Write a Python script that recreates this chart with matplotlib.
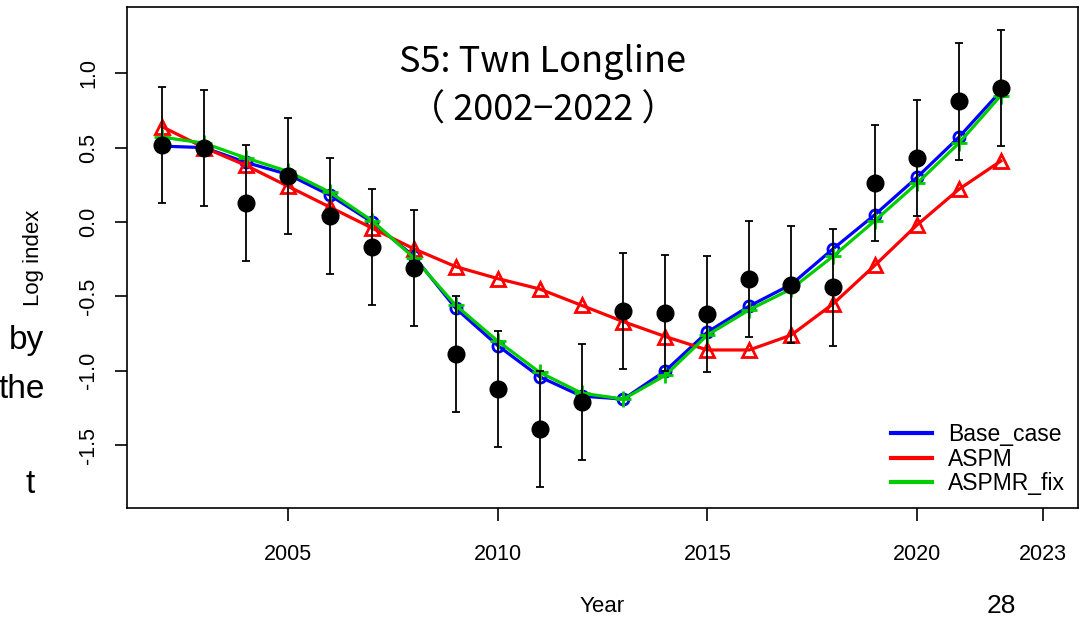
import numpy as np
import matplotlib

matplotlib.use('Agg')
import matplotlib.pyplot as plt

plt.rcParams['font.family'] = ['Liberation Sans', 'DejaVu Sans']

# ---------------------------------------------------------------------
# data
# ---------------------------------------------------------------------
years = [2002, 2003, 2004, 2005, 2006, 2007, 2008, 2009, 2010, 2011, 2012,
         2013, 2014, 2015, 2016, 2017, 2018, 2019, 2020, 2021, 2022]

obs = [0.52, 0.50, 0.13, 0.31, 0.04, -0.17, -0.31, -0.89, -1.12, -1.39, -1.21,
       -0.60, -0.61, -0.62, -0.38, -0.42, -0.44, 0.26, 0.43, 0.81, 0.90]
obs_ci = [0.39, 0.39, 0.39, 0.39, 0.39, 0.39, 0.39, 0.39, 0.39, 0.39, 0.39,
          0.39, 0.39, 0.39, 0.39, 0.39, 0.39, 0.39, 0.39, 0.39, 0.39]

base_case = [0.51, 0.50, 0.40, 0.32, 0.18, 0.00, -0.23, -0.58, -0.83, -1.04, -1.17,
             -1.19, -1.00, -0.74, -0.565, -0.42, -0.18, 0.05, 0.30, 0.57, 0.88]
aspm = [0.64, 0.50, 0.38, 0.24, 0.10, -0.04, -0.18, -0.30, -0.38, -0.45, -0.56,
        -0.67, -0.77, -0.86, -0.86, -0.76, -0.55, -0.29, -0.02, 0.22, 0.41]
aspmr_fix = [0.57, 0.53, 0.43, 0.34, 0.20, 0.01, -0.24, -0.56, -0.80, -1.01, -1.15,
             -1.19, -1.03, -0.76, -0.59, -0.45, -0.23, 0.01, 0.26, 0.53, 0.85]

series_names = ['Base_case', 'ASPM', 'ASPMR_fix']
series_colors = ['#0000FF', '#FF0000', '#00CD00']

x_ticks = [2005, 2010, 2015, 2020, 2023]
y_ticks = [-1.5, -1.0, -0.5, 0.0, 0.5, 1.0]

# ---------------------------------------------------------------------
fig = plt.figure(figsize=(10.79, 6.18), dpi=100)
ax = fig.add_axes([127 / 1079, 1 - 508 / 618, (1078 - 127) / 1079, (508 - 7) / 618])

ax.plot(years, base_case, color=series_colors[0], lw=2.3, marker='o', ms=8,
        mfc='none', mew=2, label=series_names[0], zorder=2)
ax.plot(years, aspm, color=series_colors[1], lw=2.3, marker='^', ms=10,
        mfc='none', mew=2, label=series_names[1], zorder=2)
ax.plot(years, aspmr_fix, color=series_colors[2], lw=2.3, marker='+', ms=12,
        mew=2, label=series_names[2], zorder=3)

ax.errorbar(years, obs, yerr=obs_ci, fmt='o', color='black', ms=12,
            ecolor='black', elinewidth=1.3, capsize=3, capthick=1.3, zorder=4)

ax.set_xlim(2001.16, 2023.84)
ax.set_ylim(-1.922, 1.445)
ax.set_xticks(x_ticks)
ax.set_yticks(y_ticks)
ax.set_xticklabels([str(t) for t in x_ticks])
ax.set_yticklabels([f"{t:.1f}" for t in y_ticks], rotation=90, va='center')
ax.tick_params(axis='both', direction='out', length=9, width=1.2, labelsize=15.5)
ax.tick_params(axis='x', pad=17)
ax.tick_params(axis='y', pad=11)
for sp in ax.spines.values():
    sp.set_linewidth(1.2)

ax.text(0.4374, 0.842, "S5: Twn Longline\n（ 2002−2022 ）", transform=ax.transAxes,
        ha='center', va='center', fontsize=26, linespacing=1.45,
        family=['Noto Sans CJK JP', 'DejaVu Sans'])

leg = ax.legend(loc='lower right', frameon=False, fontsize=16.5, handlelength=1.8,
                handletextpad=0.7, labelspacing=0.08, borderaxespad=0.15,
                borderpad=0.4)
for h in leg.legend_handles:
    h.set_marker('')
    h.set_linewidth(3)

# axis titles, slide leftovers
fig.text(33 / 1079, 1 - 258 / 618, "Log index", rotation=90, ha='center', va='center', fontsize=16)
fig.text(602 / 1079, 1 - 606 / 618, "Year", ha='center', va='center', fontsize=16)
fig.text(1001 / 1079, 1 - 606 / 618, "28", ha='center', va='center', fontsize=19)
fig.text(44 / 1079, 1 - 349 / 618, "by", ha='right', va='baseline', fontsize=24)
fig.text(45 / 1079, 1 - 398 / 618, "the", ha='right', va='baseline', fontsize=24)
fig.text(35 / 1079, 1 - 493 / 618, "t", ha='right', va='baseline', fontsize=24)

fig.savefig('out.png', dpi=100)
